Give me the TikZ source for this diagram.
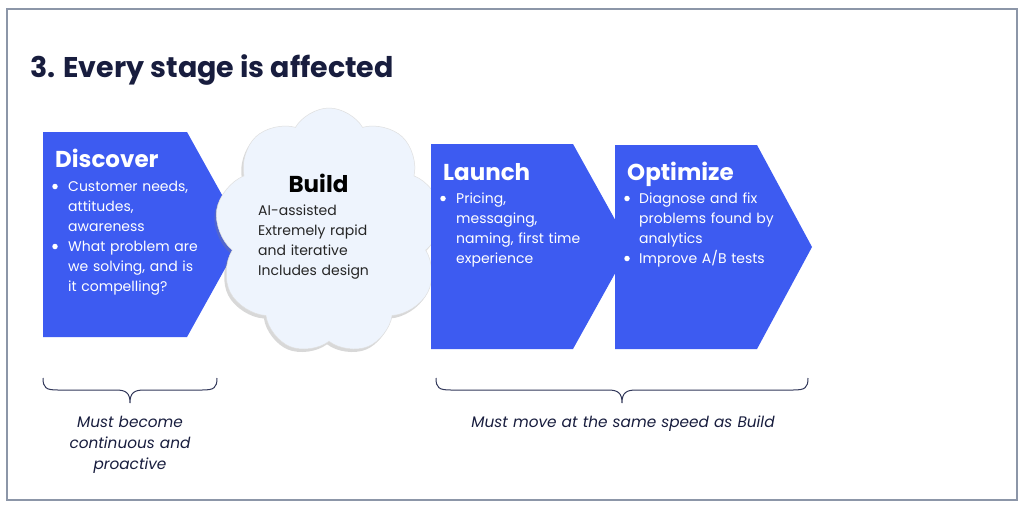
\documentclass[tikz,border=0pt]{standalone}
\usepackage{fontspec}
\setmainfont{Poppins}
\usetikzlibrary{shapes.symbols,shadows}
\definecolor{chev}{RGB}{61,91,241}
\definecolor{navy}{RGB}{24,29,62}
\definecolor{framec}{RGB}{140,150,168}
\definecolor{cloudfill}{RGB}{238,244,253}
\definecolor{bracec}{RGB}{50,56,90}
\begin{document}
\begin{tikzpicture}[x=1pt,y=-1pt,
  chevron/.style={fill=chev},
  stitle/.style={anchor=base west,inner sep=0pt,text=white,font=\fontsize{23}{27}\selectfont\bfseries},
  bdot/.style={circle,fill=white,inner sep=0pt,minimum size=5.5pt},
  btext/.style={anchor=base west,inner sep=0pt,text=white,text width=160pt,align=left,font=\fontsize{14}{20}\selectfont},
  note/.style={anchor=base,inner sep=0pt,text=navy,text width=200pt,align=center,font=\fontsize{15.3}{21}\selectfont\itshape},
  bracel/.style={draw=bracec,line width=1pt}]
\useasboundingbox (0,0) rectangle (1024,507);
\fill[white] (0,0) rectangle (1024,507);
\draw[framec,line width=1.2pt] (7,9) rectangle (1017,500);
\node[anchor=base west,inner sep=0pt,text=navy,font=\fontsize{28.5}{34}\selectfont\bfseries] (title) at (30,77) {3. Every stage is affected};
% Discover
\fill[chevron] (43,132) -- (187,132) -- (244,234.5) -- (187,337) -- (43,337) -- cycle;
% Build cloud
\node[cloud,cloud puffs=9,cloud puff arc=120,cloud ignores aspect,minimum width=228pt,minimum height=246pt,
  fill=cloudfill,draw=gray!25,line width=0.5pt,
  drop shadow={shadow xshift=-2pt,shadow yshift=-3pt,opacity=0.3,fill=gray}] (cloud) at (329,231) {};
% Launch & Optimize
\fill[chevron] (431,144) -- (573,144) -- (630,246.5) -- (573,349) -- (431,349) -- cycle;
\fill[chevron] (615,145) -- (757,145) -- (812,247) -- (757,349) -- (615,349) -- cycle;
% Discover text
\node[stitle] (discT) at (55,167) {Discover};
\node[bdot] (discD1) at (55,186.5) {};
\node[btext] (discB1) at (68,191) {Customer needs,\\attitudes,\\awareness};
\node[bdot] (discD2) at (55,246.5) {};
\node[btext] (discB2) at (68,251) {What problem are\\we solving, and is\\it compelling?};
% Build text
\node[anchor=base,inner sep=0pt,text=black,font=\fontsize{23}{27}\selectfont\bfseries] (buildT) at (318.5,192) {Build};
\node[anchor=base west,inner sep=0pt,text=black!85,text width=160pt,align=left,font=\fontsize{14}{20}\selectfont] (buildB) at (258,215) {AI-assisted\\Extremely rapid\\and iterative\\Includes design};
% Launch text
\node[stitle] (launT) at (443,180) {Launch};
\node[bdot] (launD1) at (443,198.5) {};
\node[btext] (launB1) at (456,203) {Pricing,\\messaging,\\naming, first time\\experience};
% Optimize text
\node[stitle] (optT) at (627,180) {Optimize};
\node[bdot] (optD1) at (627,198.5) {};
\node[btext] (optB1) at (639,203) {Diagnose and fix\\problems found by\\analytics};
\node[bdot] (optD2) at (627,258.5) {};
\node[btext] (optB2) at (639,263) {Improve A/B tests};
% Braces
\coordinate (lb1) at (43,378); \coordinate (lb2) at (217,378); \coordinate (lbt) at (130,403);
\draw[bracel] (lb1) .. controls (43,388) and (46,390) .. (58,390) -- (116,390)
  .. controls (126,390) and (130,393) .. (lbt) .. controls (130,393) and (134,390) .. (144,390)
  -- (202,390) .. controls (214,390) and (217,388) .. (lb2);
\coordinate (rb1) at (436,378); \coordinate (rb2) at (808,378); \coordinate (rbt) at (622,403);
\draw[bracel] (rb1) .. controls (436,388) and (439,390) .. (451,390) -- (608,390)
  .. controls (618,390) and (622,393) .. (rbt) .. controls (622,393) and (626,390) .. (636,390)
  -- (793,390) .. controls (805,390) and (808,388) .. (rb2);
\node[note] (noteL) at (130,427) {Must become\\continuous and\\proactive};
\node[note,text width=360pt] (noteR) at (623,427) {Must move at the same speed as Build};
\end{tikzpicture}
\end{document}
